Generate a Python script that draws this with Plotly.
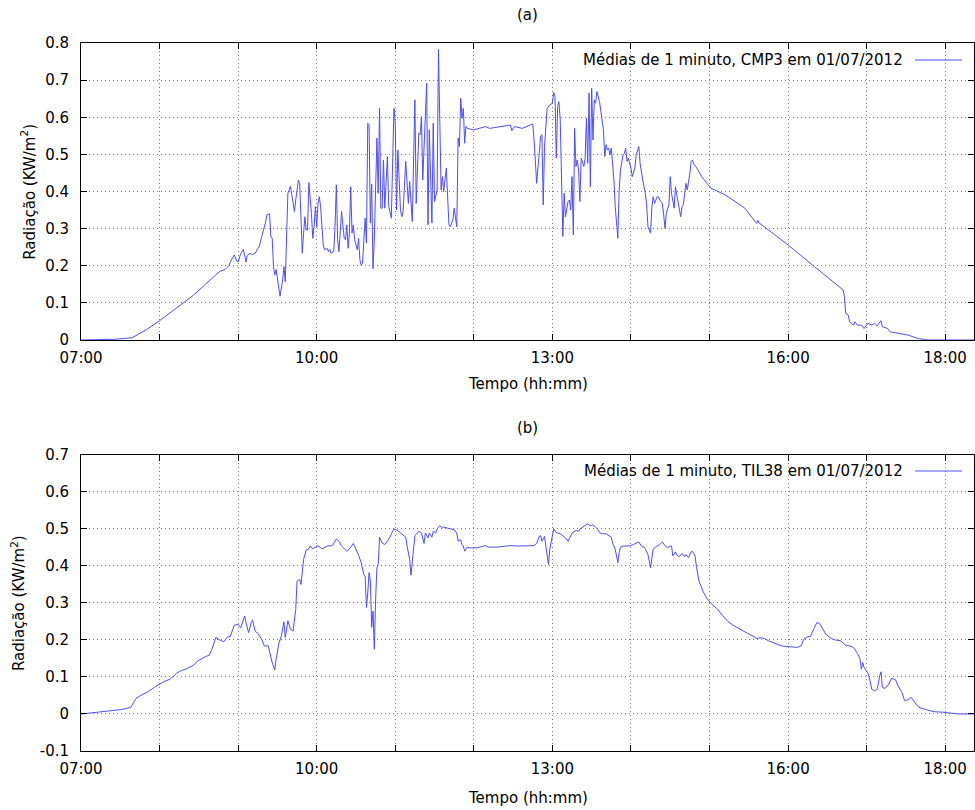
import plotly.graph_objects as go

DIA = "2012-07-01"
COR_LINHA = "#4d4dff"

# Radiação média de 1 minuto, piranômetro CMP3 (hora local, KW/m²)
cmp3 = [
    ("07:00", 0.000), ("07:15", 0.000), ("07:26", 0.002), ("07:39", 0.006), ("07:50", 0.028),
    ("08:00", 0.052), ("08:10", 0.078), ("08:20", 0.105), ("08:26", 0.121), ("08:35", 0.150),
    ("08:46", 0.185), ("08:50", 0.190), ("08:53", 0.200), ("08:54", 0.210), ("08:56", 0.222),
    ("08:57", 0.229), ("08:59", 0.213), ("09:00", 0.210), ("09:02", 0.233), ("09:04", 0.244),
    ("09:05", 0.228), ("09:06", 0.210), ("09:07", 0.228), ("09:09", 0.233), ("09:11", 0.230),
    ("09:13", 0.233), ("09:15", 0.247), ("09:16", 0.250), ("09:18", 0.278), ("09:19", 0.290),
    ("09:20", 0.305), ("09:21", 0.318), ("09:22", 0.337), ("09:24", 0.340), ("09:25", 0.278),
    ("09:26", 0.275), ("09:27", 0.198), ("09:28", 0.175), ("09:29", 0.190), ("09:30", 0.162),
    ("09:31", 0.140), ("09:32", 0.118), ("09:34", 0.162), ("09:35", 0.198), ("09:36", 0.157),
    ("09:37", 0.288), ("09:38", 0.395), ("09:39", 0.404), ("09:40", 0.415), ("09:41", 0.391),
    ("09:43", 0.346), ("09:44", 0.377), ("09:45", 0.413), ("09:46", 0.431), ("09:47", 0.422),
    ("09:48", 0.319), ("09:49", 0.234), ("09:50", 0.288), ("09:51", 0.332), ("09:52", 0.296),
    ("09:53", 0.296), ("09:54", 0.424), ("09:55", 0.386), ("09:56", 0.341), ("09:57", 0.274),
    ("09:58", 0.305), ("09:59", 0.359), ("10:00", 0.305), ("10:01", 0.368), ("10:02", 0.386),
    ("10:03", 0.359), ("10:04", 0.305), ("10:05", 0.256), ("10:06", 0.243), ("10:08", 0.247),
    ("10:09", 0.238), ("10:10", 0.244), ("10:11", 0.234), ("10:13", 0.238), ("10:14", 0.305),
    ("10:15", 0.418), ("10:16", 0.270), ("10:17", 0.238), ("10:19", 0.346), ("10:20", 0.305),
    ("10:21", 0.274), ("10:22", 0.270), ("10:23", 0.310), ("10:24", 0.247), ("10:25", 0.288),
    ("10:26", 0.413), ("10:27", 0.288), ("10:28", 0.310), ("10:29", 0.270), ("10:31", 0.243),
    ("10:32", 0.274), ("10:33", 0.216), ("10:34", 0.202), ("10:35", 0.207), ("10:36", 0.288),
    ("10:37", 0.328), ("10:38", 0.261), ("10:39", 0.584), ("10:40", 0.580), ("10:41", 0.315),
    ("10:42", 0.420), ("10:43", 0.192), ("10:44", 0.270), ("10:45", 0.395), ("10:46", 0.544),
    ("10:47", 0.395), ("10:48", 0.624), ("10:49", 0.355), ("10:50", 0.355), ("10:51", 0.485),
    ("10:52", 0.355), ("10:54", 0.494), ("10:55", 0.360), ("10:56", 0.345), ("10:57", 0.328),
    ("10:59", 0.624), ("11:00", 0.584), ("11:01", 0.350), ("11:02", 0.512), ("11:04", 0.350),
    ("11:05", 0.332), ("11:06", 0.346), ("11:08", 0.481), ("11:10", 0.368), ("11:11", 0.427),
    ("11:13", 0.319), ("11:15", 0.647), ("11:16", 0.368), ("11:18", 0.557), ("11:19", 0.553),
    ("11:20", 0.602), ("11:21", 0.431), ("11:24", 0.692), ("11:25", 0.310), ("11:26", 0.566),
    ("11:28", 0.315), ("11:29", 0.584), ("11:30", 0.373), ("11:32", 0.404), ("11:33", 0.783),
    ("11:35", 0.404), ("11:36", 0.440), ("11:37", 0.400), ("11:39", 0.463), ("11:40", 0.395),
    ("11:41", 0.310), ("11:42", 0.305), ("11:44", 0.324), ("11:45", 0.355), ("11:47", 0.305),
    ("11:48", 0.544), ("11:49", 0.521), ("11:50", 0.651), ("11:51", 0.597), ("11:52", 0.624),
    ("11:53", 0.530), ("11:54", 0.575), ("11:55", 0.570), ("12:00", 0.566), ("12:09", 0.575),
    ("12:12", 0.570), ("12:17", 0.573), ("12:28", 0.579), ("12:29", 0.564), ("12:31", 0.575),
    ("12:37", 0.570), ("12:45", 0.582), ("12:46", 0.540), ("12:47", 0.494), ("12:48", 0.422),
    ("12:51", 0.548), ("12:52", 0.553), ("12:53", 0.364), ("12:54", 0.521), ("12:56", 0.624),
    ("12:58", 0.633), ("13:00", 0.638), ("13:01", 0.667), ("13:02", 0.656), ("13:03", 0.490),
    ("13:04", 0.629), ("13:05", 0.642), ("13:06", 0.593), ("13:08", 0.279), ("13:09", 0.395),
    ("13:10", 0.332), ("13:12", 0.373), ("13:13", 0.377), ("13:14", 0.350), ("13:15", 0.440),
    ("13:16", 0.283), ("13:17", 0.570), ("13:18", 0.467), ("13:19", 0.485), ("13:20", 0.458),
    ("13:21", 0.373), ("13:22", 0.490), ("13:24", 0.467), ("13:25", 0.490), ("13:26", 0.597),
    ("13:27", 0.476), ("13:28", 0.665), ("13:29", 0.413), ("13:30", 0.678), ("13:31", 0.539),
    ("13:32", 0.647), ("13:33", 0.638), ("13:34", 0.669), ("13:36", 0.642), ("13:38", 0.593),
    ("13:39", 0.566), ("13:40", 0.494), ("13:41", 0.526), ("13:42", 0.512), ("13:43", 0.517),
    ("13:44", 0.499), ("13:45", 0.517), ("13:47", 0.431), ("13:48", 0.359), ("13:50", 0.274),
    ("13:51", 0.404), ("13:52", 0.458), ("13:54", 0.499), ("13:55", 0.503), ("13:56", 0.517),
    ("13:57", 0.481), ("13:58", 0.490), ("14:00", 0.463), ("14:01", 0.440), ("14:03", 0.463),
    ("14:04", 0.499), ("14:06", 0.521), ("14:07", 0.476), ("14:09", 0.431), ("14:11", 0.395),
    ("14:12", 0.364), ("14:13", 0.305), ("14:15", 0.288), ("14:16", 0.359), ("14:17", 0.386),
    ("14:18", 0.368), ("14:20", 0.386), ("14:21", 0.386), ("14:22", 0.377), ("14:24", 0.368),
    ("14:25", 0.337), ("14:26", 0.301), ("14:27", 0.341), ("14:29", 0.364), ("14:30", 0.440),
    ("14:31", 0.395), ("14:33", 0.355), ("14:34", 0.413), ("14:35", 0.391), ("14:36", 0.373),
    ("14:38", 0.332), ("14:39", 0.359), ("14:40", 0.364), ("14:42", 0.422), ("14:43", 0.404),
    ("14:45", 0.449), ("14:46", 0.481), ("14:47", 0.485), ("14:48", 0.474), ("14:50", 0.465),
    ("14:52", 0.452), ("14:54", 0.440), ("15:01", 0.409), ("15:12", 0.391), ("15:27", 0.355),
    ("15:35", 0.318), ("15:36", 0.314), ("15:37", 0.322), ("15:38", 0.315), ("15:50", 0.283),
    ("16:00", 0.256), ("16:20", 0.198), ("16:33", 0.162), ("16:41", 0.140), ("16:42", 0.135),
    ("16:43", 0.117), ("16:44", 0.072), ("16:46", 0.067), ("16:47", 0.049), ("16:50", 0.040),
    ("16:51", 0.049), ("16:53", 0.040), ("16:56", 0.040), ("16:58", 0.031), ("17:01", 0.045),
    ("17:04", 0.040), ("17:06", 0.045), ("17:08", 0.038), ("17:11", 0.052), ("17:12", 0.036),
    ("17:16", 0.031), ("17:18", 0.022), ("17:24", 0.019), ("17:32", 0.013), ("17:39", 0.004),
    ("17:47", 0.000), ("18:22", 0.000),
]

# Radiação média de 1 minuto, sensor TIL38 (hora local, KW/m²)
til38 = [
    ("07:00", 0.000), ("07:08", 0.003), ("07:20", 0.006), ("07:31", 0.012), ("07:38", 0.018),
    ("07:40", 0.031), ("07:42", 0.042), ("07:46", 0.051), ("07:51", 0.060), ("07:56", 0.072),
    ("08:00", 0.081), ("08:03", 0.087), ("08:08", 0.094), ("08:13", 0.110), ("08:17", 0.118),
    ("08:20", 0.121), ("08:26", 0.132), ("08:29", 0.143), ("08:35", 0.155), ("08:38", 0.159),
    ("08:40", 0.175), ("08:42", 0.198), ("08:43", 0.207), ("08:46", 0.200), ("08:49", 0.195),
    ("08:52", 0.209), ("08:54", 0.209), ("08:57", 0.240), ("09:00", 0.242), ("09:02", 0.233),
    ("09:05", 0.265), ("09:06", 0.247), ("09:08", 0.220), ("09:10", 0.247), ("09:11", 0.254),
    ("09:13", 0.224), ("09:15", 0.218), ("09:18", 0.202), ("09:20", 0.184), ("09:23", 0.184),
    ("09:25", 0.153), ("09:26", 0.139), ("09:28", 0.119), ("09:29", 0.148), ("09:31", 0.189),
    ("09:33", 0.211), ("09:35", 0.249), ("09:36", 0.207), ("09:38", 0.252), ("09:40", 0.229),
    ("09:42", 0.224), ("09:44", 0.283), ("09:45", 0.359), ("09:47", 0.364), ("09:48", 0.350),
    ("09:50", 0.418), ("09:52", 0.443), ("09:54", 0.446), ("09:55", 0.454), ("09:57", 0.446),
    ("09:59", 0.451), ("10:01", 0.455), ("10:04", 0.446), ("10:08", 0.454), ("10:12", 0.455),
    ("10:15", 0.473), ("10:17", 0.467), ("10:19", 0.454), ("10:23", 0.440), ("10:25", 0.446),
    ("10:28", 0.461), ("10:30", 0.446), ("10:32", 0.429), ("10:34", 0.409), ("10:36", 0.377),
    ("10:37", 0.373), ("10:38", 0.288), ("10:39", 0.327), ("10:40", 0.382), ("10:41", 0.359),
    ("10:42", 0.234), ("10:43", 0.278), ("10:44", 0.175), ("10:45", 0.310), ("10:46", 0.395),
    ("10:47", 0.404), ("10:48", 0.478), ("10:50", 0.462), ("10:52", 0.458), ("10:54", 0.467),
    ("10:56", 0.478), ("10:58", 0.494), ("10:59", 0.500), ("11:01", 0.498), ("11:04", 0.489),
    ("11:08", 0.478), ("11:09", 0.454), ("11:11", 0.418), ("11:12", 0.375), ("11:14", 0.445),
    ("11:15", 0.482), ("11:18", 0.494), ("11:20", 0.489), ("11:22", 0.461), ("11:23", 0.489),
    ("11:25", 0.476), ("11:26", 0.489), ("11:28", 0.478), ("11:29", 0.494), ("11:31", 0.489),
    ("11:32", 0.500), ("11:34", 0.509), ("11:36", 0.503), ("11:37", 0.505), ("11:39", 0.503),
    ("11:42", 0.500), ("11:45", 0.498), ("11:47", 0.489), ("11:48", 0.467), ("11:50", 0.471),
    ("11:51", 0.458), ("11:52", 0.454), ("11:53", 0.440), ("11:55", 0.451), ("11:57", 0.449),
    ("12:02", 0.449), ("12:09", 0.455), ("12:11", 0.451), ("12:18", 0.451), ("12:28", 0.455),
    ("12:35", 0.454), ("12:46", 0.455), ("12:48", 0.461), ("12:50", 0.480), ("12:51", 0.482),
    ("12:52", 0.467), ("12:54", 0.480), ("12:55", 0.454), ("12:56", 0.427), ("12:57", 0.404),
    ("12:58", 0.445), ("13:00", 0.489), ("13:01", 0.500), ("13:03", 0.490), ("13:06", 0.487),
    ("13:08", 0.482), ("13:10", 0.476), ("13:12", 0.467), ("13:13", 0.476), ("13:15", 0.489),
    ("13:18", 0.496), ("13:20", 0.494), ("13:21", 0.500), ("13:23", 0.505), ("13:25", 0.509),
    ("13:27", 0.514), ("13:29", 0.509), ("13:31", 0.511), ("13:33", 0.505), ("13:35", 0.498),
    ("13:36", 0.490), ("13:38", 0.487), ("13:41", 0.487), ("13:43", 0.482), ("13:45", 0.478),
    ("13:46", 0.462), ("13:48", 0.445), ("13:49", 0.427), ("13:50", 0.409), ("13:51", 0.436),
    ("13:52", 0.451), ("13:54", 0.454), ("13:57", 0.455), ("13:59", 0.454), ("14:02", 0.458),
    ("14:04", 0.461), ("14:06", 0.465), ("14:08", 0.454), ("14:10", 0.451), ("14:11", 0.446),
    ("14:13", 0.431), ("14:14", 0.413), ("14:15", 0.395), ("14:16", 0.422), ("14:17", 0.446),
    ("14:20", 0.454), ("14:22", 0.458), ("14:24", 0.465), ("14:26", 0.455), ("14:28", 0.449),
    ("14:30", 0.454), ("14:31", 0.454), ("14:32", 0.427), ("14:34", 0.438), ("14:35", 0.429),
    ("14:37", 0.425), ("14:39", 0.434), ("14:41", 0.425), ("14:42", 0.431), ("14:44", 0.422),
    ("14:46", 0.438), ("14:47", 0.440), ("14:49", 0.427), ("14:50", 0.398), ("14:52", 0.359),
    ("14:55", 0.332), ("14:58", 0.312), ("15:02", 0.296), ("15:06", 0.284), ("15:10", 0.266),
    ("15:14", 0.250), ("15:18", 0.240), ("15:23", 0.229), ("15:29", 0.218), ("15:34", 0.209),
    ("15:36", 0.204), ("15:39", 0.206), ("15:42", 0.204), ("15:45", 0.198), ("15:50", 0.190),
    ("15:55", 0.184), ("16:00", 0.182), ("16:07", 0.180), ("16:10", 0.184), ("16:12", 0.202),
    ("16:15", 0.209), ("16:17", 0.209), ("16:20", 0.233), ("16:22", 0.247), ("16:24", 0.245),
    ("16:26", 0.233), ("16:29", 0.215), ("16:33", 0.204), ("16:36", 0.200), ("16:40", 0.198),
    ("16:44", 0.186), ("16:47", 0.184), ("16:50", 0.180), ("16:53", 0.164), ("16:55", 0.148),
    ("16:56", 0.121), ("16:57", 0.139), ("16:58", 0.126), ("16:59", 0.121), ("17:01", 0.110),
    ("17:02", 0.099), ("17:03", 0.081), ("17:04", 0.066), ("17:06", 0.063), ("17:08", 0.066),
    ("17:10", 0.103), ("17:11", 0.114), ("17:12", 0.072), ("17:14", 0.069), ("17:17", 0.081),
    ("17:19", 0.096), ("17:22", 0.093), ("17:24", 0.076), ("17:27", 0.058), ("17:29", 0.036),
    ("17:32", 0.039), ("17:34", 0.045), ("17:37", 0.030), ("17:40", 0.018), ("17:45", 0.012),
    ("17:52", 0.006), ("17:58", 0.005), ("18:10", 0.000), ("18:22", 0.000),
]

# Eixo de tempo: rótulos só em algumas horas, marcas e grade a cada hora
horas_rotuladas = ["07:00", "10:00", "13:00", "16:00", "18:00"]
hora_inicio, hora_fim = "07:00", "18:22"
passo_grade_ms = 3600 * 1000

# Marcas do eixo de radiação
ticks_a = [0, 0.1, 0.2, 0.3, 0.4, 0.5, 0.6, 0.7, 0.8]
rotulos_a = ["0", "0.1", "0.2", "0.3", "0.4", "0.5", "0.6", "0.7", "0.8"]
ticks_b = [-0.1, 0, 0.1, 0.2, 0.3, 0.4, 0.5, 0.6, 0.7]
rotulos_b = ["-0.1", "0", "0.1", "0.2", "0.3", "0.4", "0.5", "0.6", "0.7"]

legenda_a = "Médias de 1 minuto, CMP3 em 01/07/2012"
legenda_b = "Médias de 1 minuto, TIL38 em 01/07/2012"
titulo_x = "Tempo (hh:mm)"
titulo_y = "Radiação (KW/m<sup>2</sup>)"


def instante(hhmm):
    return f"{DIA} {hhmm}"


FONTE = dict(family="DejaVu Sans", size=15, color="black")
GRADE = dict(gridcolor="#7a7a7a", gridwidth=1, griddash="1px,3px")

fig = go.Figure()
for serie, xa, ya in ((cmp3, "x", "y"), (til38, "x2", "y2")):
    fig.add_trace(go.Scatter(
        x=[instante(h) for h, _ in serie],
        y=[v for _, v in serie],
        mode="lines",
        line=dict(color=COR_LINHA, width=1),
        xaxis=xa, yaxis=ya,
        showlegend=False,
        hoverinfo="skip",
    ))

eixo_comum = dict(
    showline=True, linecolor="black", linewidth=1, mirror="ticks",
    ticks="inside", ticklen=6, tickcolor="black", tickwidth=1,
    showgrid=True, zeroline=False, tickfont=FONTE, **GRADE,
)
eixo_x = dict(
    eixo_comum, type="date",
    range=[instante(hora_inicio), instante(hora_fim)],
    tickmode="array",
    tickvals=[instante(h) for h in horas_rotuladas],
    ticktext=horas_rotuladas,
    ticklabelstandoff=4,
    minor=dict(tick0=instante(hora_inicio), dtick=passo_grade_ms,
               ticks="inside", ticklen=6, tickcolor="black",
               showgrid=True, **GRADE),
)

fig.update_layout(
    width=975, height=810,
    margin=dict(l=81, r=1, t=43, b=59),
    paper_bgcolor="white", plot_bgcolor="white",
    font=FONTE,
    xaxis=dict(eixo_x, domain=[0, 1], anchor="y"),
    yaxis=dict(eixo_comum, domain=[0.5805, 1], anchor="x", range=[0, 0.8],
               tickmode="array", tickvals=ticks_a, ticktext=rotulos_a,
               ticklabelstandoff=8),
    xaxis2=dict(eixo_x, domain=[0, 1], anchor="y2"),
    yaxis2=dict(eixo_comum, domain=[0, 0.4181], anchor="x2", range=[-0.1, 0.7],
                tickmode="array", tickvals=ticks_b, ticktext=rotulos_b,
                ticklabelstandoff=8),
)

anotacoes = [
    dict(text="(a)", x=0.5, y=1.0395),
    dict(text="(b)", x=0.5, y=0.456),
    dict(text=titulo_x, x=0.5, y=0.518),
    dict(text=titulo_x, x=0.5, y=-0.066),
    dict(text=titulo_y, x=-0.0593, y=0.79, textangle=-90),
    dict(text=titulo_y, x=-0.0705, y=0.209, textangle=-90),
    dict(text=legenda_a, x=0.9227, y=0.976, xanchor="right"),
    dict(text=legenda_b, x=0.9227, y=0.3955, xanchor="right"),
]
for a in anotacoes:
    a.setdefault("xanchor", "center")
    fig.add_annotation(xref="paper", yref="paper", yanchor="middle",
                       showarrow=False, font=FONTE, **a)

# Amostras de linha da legenda, à direita do texto
for y_leg in (0.976, 0.3955):
    fig.add_shape(type="line", xref="paper", yref="paper",
                  x0=0.934, x1=0.9866, y0=y_leg, y1=y_leg,
                  line=dict(color=COR_LINHA, width=1))

fig.write_html("out.html")
